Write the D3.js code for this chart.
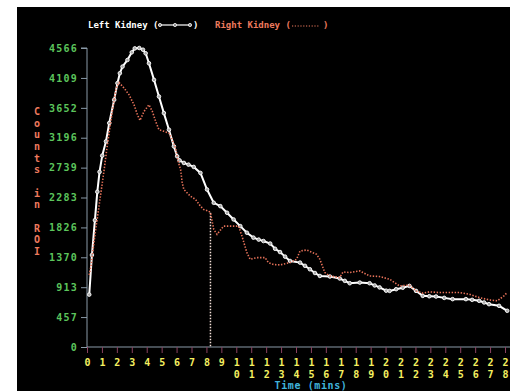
<!DOCTYPE html>
<html>
<head>
<meta charset="utf-8">
<script src="https://cdn.jsdelivr.net/npm/d3@7"></script>
<style>
html,body{margin:0;padding:0;background:#fff;}
svg{display:block;}
text{font-family:"DejaVu Sans Mono","Liberation Mono",monospace;font-weight:bold;}
</style>
</head>
<body>
<svg id="c" width="510" height="391"></svg>
<script>
// ---- data ----
const leftTime = [0.15,0.33,0.53,0.69,0.84,1.02,1.27,1.49,1.82,2.04,2.2,2.38,2.71,3.0,3.2,3.5,3.75,3.93,4.15,4.49,4.82,5.15,5.49,5.82,6.04,6.2,6.49,6.8,7.15,7.6,8.04,8.49,8.93,9.38,9.82,10.27,10.71,11.15,11.5,11.82,12.27,12.6,12.93,13.27,13.6,14.27,14.6,14.93,15.27,15.6,16.27,16.93,17.27,17.6,18.27,18.93,19.27,19.6,20.04,20.27,20.71,21.15,21.6,22.04,22.49,22.93,23.38,23.93,24.49,25.38,25.8,26.27,26.6,26.93,27.6,28.15];
const leftCounts = [800,1405,1937,2370,2674,2922,3140,3420,3775,4029,4181,4282,4383,4500,4560,4566,4540,4485,4333,4079,3825,3572,3318,3064,2912,2850,2811,2785,2750,2658,2405,2202,2151,2050,1948,1846,1745,1670,1640,1618,1580,1500,1450,1380,1314,1289,1240,1187,1130,1085,1076,1046,1010,974,984,974,940,910,860,857,883,905,933,857,781,775,771,750,731,731,720,705,680,654,629,553];
const rightTime = [0.15,0.27,0.49,0.71,0.93,1.15,1.38,1.71,1.95,2.15,2.49,2.82,3.15,3.38,3.55,3.82,4.15,4.38,4.6,4.82,5.15,5.49,5.71,5.93,6.04,6.15,6.27,6.38,6.49,6.93,7.27,7.6,7.82,8.15,8.27,8.49,8.71,9.15,10.15,10.38,10.71,10.93,11.38,11.93,12.15,12.49,12.93,13.6,14.04,14.27,14.71,15.38,15.6,15.93,16.27,16.93,17.15,17.6,18.27,18.93,19.6,20.27,20.93,21.6,22.04,22.49,22.93,23.6,24.27,24.93,25.6,26.27,26.93,27.49,27.93,28.15];
const rightCounts = [1100,1237,1644,1998,2353,2709,3115,3622,3950,4039,3952,3851,3699,3546,3460,3597,3699,3597,3445,3318,3293,3267,3166,3039,2912,2800,2709,2507,2405,2303,2253,2151,2100,2075,2050,1796,1720,1846,1846,1694,1441,1339,1365,1365,1289,1260,1253,1289,1339,1466,1481,1416,1339,1137,1085,1060,1146,1137,1162,1085,1076,1035,933,944,857,822,842,832,832,832,806,756,720,705,781,832];
const yTicks = [0,457,913,1370,1826,2283,2739,3196,3652,4109,4566];
const xTicks = d3.range(0,29);
const markerTime = 8.27;
const markerCount = 2050;
const legendLabels = ["Left Kidney (", ")", "Right Kidney (", ")"];
const yTitle = "Counts in ROI";
const xTitle = "Time (mins)";

// ---- drawing ----
const svg = d3.select("#c");
svg.append("rect").attr("x",17).attr("y",7).attr("width",493).attr("height",384).attr("fill","#000");

const x = d3.scaleLinear().domain([0,28]).range([87,505]);
const y = d3.scaleLinear().domain([0,4566]).range([347,48]);

// Y axis
const yAxis = svg.append("g").attr("transform","translate(87,0)")
  .call(d3.axisLeft(y).tickValues(yTicks).tickSize(6).tickPadding(3).tickFormat(d3.format("d")));
yAxis.select(".domain").attr("stroke","#8a9aa8").attr("d","M-6,48H0V347");
yAxis.selectAll(".tick line").attr("stroke","#8a9aa8");
yAxis.selectAll(".tick text").attr("fill","#5cc55c").style("font-size","10px").style("letter-spacing","1.2px")
  .style("font-family","DejaVu Sans Mono").style("font-weight","bold");

// X axis
const xAxis = svg.append("g").attr("transform","translate(0,347)")
  .call(d3.axisBottom(x).tickValues(xTicks).tickSize(6).tickFormat(""));
xAxis.select(".domain").attr("stroke","#8a9aa8").attr("d","M87,0H510");
xAxis.selectAll(".tick line").attr("stroke","#8a4060");
xAxis.selectAll(".tick").each(function(d){
  const s = String(d);
  const g = d3.select(this);
  for(let i=0;i<s.length;i++){
    g.append("text").attr("x",0).attr("y",19+i*12).attr("text-anchor","middle")
      .attr("fill","#f5f060").style("font-size","10px").text(s[i]);
  }
});

// X title
svg.append("text").attr("x",311).attr("y",389).attr("text-anchor","middle")
  .attr("fill","#40b4dc").style("font-size","10px").style("letter-spacing","0.6px").text(xTitle);

// Y title stacked
const chars = yTitle.split("");
chars.forEach((ch,i)=>{
  if(ch===" ") return;
  svg.append("text").attr("x",37).attr("y",115+i*11.67).attr("text-anchor","middle")
    .attr("fill","#ee7a5e").style("font-size","10px").text(ch);
});

// vertical marker
svg.append("line").attr("x1",x(markerTime)).attr("x2",x(markerTime))
  .attr("y1",y(markerCount)).attr("y2",y(0))
  .attr("stroke","#f4e0d8").attr("stroke-width",1.5).attr("stroke-dasharray","1.5,1.5");

// left kidney
const leftData = leftTime.map((t,i)=>[t,leftCounts[i]]);
const rightData = rightTime.map((t,i)=>[t,rightCounts[i]]);
const line = d3.line().x(d=>x(d[0])).y(d=>y(d[1]));
svg.append("path").datum(leftData).attr("d",line).attr("fill","none")
  .attr("stroke","#ffffff").attr("stroke-width",2);
svg.selectAll("circle.l").data(leftData).enter().append("circle").attr("class","l")
  .attr("cx",d=>x(d[0])).attr("cy",d=>y(d[1])).attr("r",1.8)
  .attr("fill","#aaa").attr("stroke","#fff").attr("stroke-width",0.9);

// right kidney
svg.append("path").datum(rightData).attr("d",line).attr("fill","none")
  .attr("stroke","#e8735a").attr("stroke-width",1.6).attr("stroke-dasharray","1.4,1.6");

// legend
svg.append("text").attr("x",88).attr("y",28).attr("fill","#fff").style("font-size","9px").text(legendLabels[0]);
svg.append("line").attr("x1",160).attr("x2",190).attr("y1",25).attr("y2",25).attr("stroke","#fff").attr("stroke-width",1.2);
[160,175,190].forEach(cx=>svg.append("circle").attr("cx",cx).attr("cy",25).attr("r",1.6)
  .attr("fill","#888").attr("stroke","#fff").attr("stroke-width",0.8));
svg.append("text").attr("x",193).attr("y",28).attr("fill","#fff").style("font-size","9px").text(legendLabels[1]);
svg.append("text").attr("x",215).attr("y",28).attr("fill","#ee7a5e").style("font-size","9px").text(legendLabels[2]);
svg.append("line").attr("x1",292).attr("x2",320).attr("y1",26).attr("y2",26)
  .attr("stroke","#ee7a5e").attr("stroke-width",1.2).attr("stroke-dasharray","1.2,1.6");
svg.append("text").attr("x",323).attr("y",28).attr("fill","#ee7a5e").style("font-size","9px").text(legendLabels[3]);
</script>
</body>
</html>
